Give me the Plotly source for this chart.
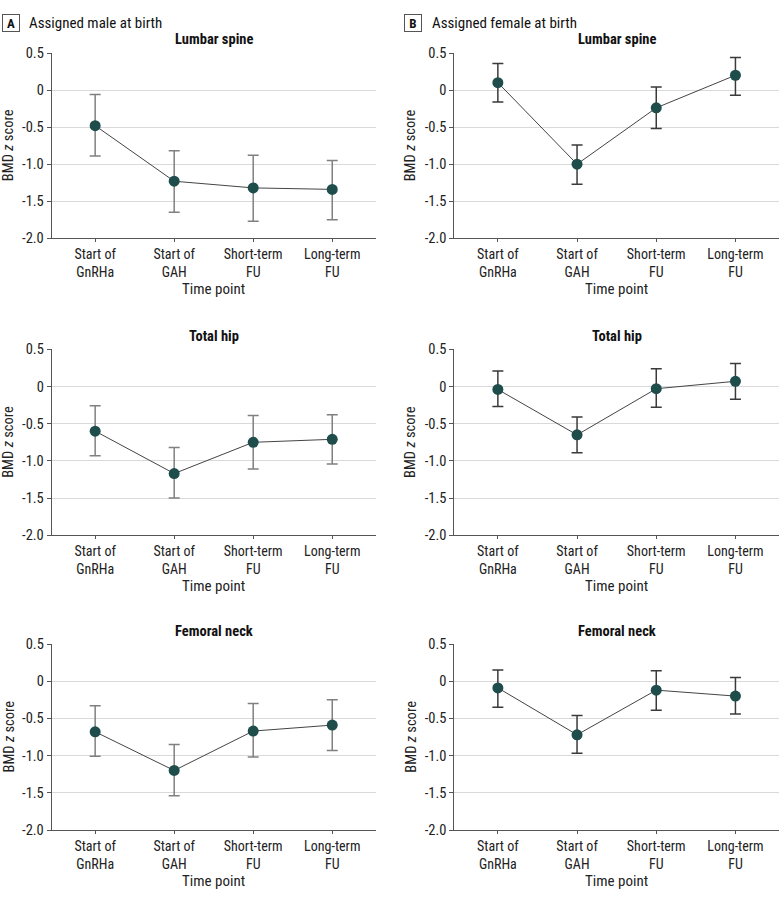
import plotly.graph_objects as go

categories = ["Start of<br>GnRHa", "Start of<br>GAH", "Short-term<br>FU", "Long-term<br>FU"]
sites = ["Lumbar spine", "Total hip", "Femoral neck"]

# Assigned male at birth (A)
amab_mean = {
    "Lumbar spine": [-0.48, -1.23, -1.32, -1.34],
    "Total hip": [-0.60, -1.17, -0.75, -0.71],
    "Femoral neck": [-0.68, -1.20, -0.67, -0.59],
}
amab_upper = {
    "Lumbar spine": [-0.06, -0.82, -0.88, -0.95],
    "Total hip": [-0.26, -0.82, -0.39, -0.38],
    "Femoral neck": [-0.33, -0.85, -0.30, -0.25],
}
amab_lower = {
    "Lumbar spine": [-0.89, -1.65, -1.77, -1.75],
    "Total hip": [-0.93, -1.50, -1.11, -1.04],
    "Femoral neck": [-1.01, -1.54, -1.02, -0.93],
}

# Assigned female at birth (B)
afab_mean = {
    "Lumbar spine": [0.10, -1.00, -0.24, 0.20],
    "Total hip": [-0.04, -0.65, -0.03, 0.07],
    "Femoral neck": [-0.09, -0.72, -0.12, -0.20],
}
afab_upper = {
    "Lumbar spine": [0.36, -0.74, 0.04, 0.44],
    "Total hip": [0.21, -0.41, 0.24, 0.31],
    "Femoral neck": [0.15, -0.46, 0.14, 0.05],
}
afab_lower = {
    "Lumbar spine": [-0.16, -1.27, -0.52, -0.07],
    "Total hip": [-0.27, -0.89, -0.28, -0.17],
    "Femoral neck": [-0.35, -0.97, -0.39, -0.44],
}

y_tickvals = [-2.0, -1.5, -1.0, -0.5, 0, 0.5]
y_ticktext = ["-2.0", "-1.5", "-1.0", "-0.5", "0", "0.5"]

W, H = 783, 900
FONT = "Roboto Condensed, Roboto, sans-serif"
MARKER = "#1e4d4b"

# pixel layout
xdom_px = [(51.7, 375.7), (454.3, 779.0)]
ydom_px = [(53, 238.3), (349.3, 535.3), (644, 830)]

fig = go.Figure()

groups = [
    (amab_mean, amab_upper, amab_lower, "#808080"),
    (afab_mean, afab_upper, afab_lower, "#3a3a3a"),
]

ax_i = 0
annotations = []
for r, site in enumerate(sites):
    for c, (mean, up, lo, ecol) in enumerate(groups):
        ax_i += 1
        xa = "x" if ax_i == 1 else f"x{ax_i}"
        ya = "y" if ax_i == 1 else f"y{ax_i}"
        m = mean[site]
        plus = [u - v for u, v in zip(up[site], m)]
        minus = [v - l for v, l in zip(m, lo[site])]
        fig.add_trace(go.Scatter(
            x=categories, y=m, mode="lines+markers",
            line=dict(color="#444444", width=1),
            marker=dict(color=MARKER, size=11),
            error_y=dict(type="data", symmetric=False, array=plus, arrayminus=minus,
                         color=ecol, thickness=1.5, width=5.5),
            xaxis=xa, yaxis=ya, showlegend=False, cliponaxis=False,
            hoverinfo="skip",
        ))
        x0, x1 = xdom_px[c]
        y0, y1 = ydom_px[r]
        xdom = [x0 / W, x1 / W]
        ydom = [1 - y1 / H, 1 - y0 / H]
        key_x = "xaxis" if ax_i == 1 else f"xaxis{ax_i}"
        key_y = "yaxis" if ax_i == 1 else f"yaxis{ax_i}"
        fig.layout[key_x] = dict(
            domain=xdom, anchor=ya, range=[-0.55, 3.55], type="category",
            showline=True, linecolor="#555555", linewidth=1,
            ticks="outside", ticklen=3, tickcolor="#555555",
            showgrid=False, zeroline=False, automargin=False,
            tickfont=dict(family=FONT, size=14, color="#222222"),
        )
        fig.layout[key_y] = dict(
            domain=ydom, anchor=xa, range=[-2.0, 0.5],
            tickvals=y_tickvals, ticktext=y_ticktext,
            showline=True, linecolor="#555555", linewidth=1,
            ticks="outside", ticklen=4, tickcolor="#555555",
            showgrid=True, gridcolor="#d9d9d9", gridwidth=1, zeroline=False,
            automargin=False,
            tickfont=dict(family=FONT, size=14.5, color="#222222"),
        )
        cx = (x0 + x1) / 2 / W
        # subplot title
        annotations.append(dict(
            text=site, x=cx, y=1 - (y0 - 13) / H, xref="paper", yref="paper",
            showarrow=False, font=dict(family=FONT, size=14.5, color="#111111", weight=700),
            xanchor="center", yanchor="middle",
        ))
        # x-axis title
        annotations.append(dict(
            text="Time point", x=cx, y=1 - (y1 + 51) / H, xref="paper", yref="paper",
            showarrow=False, font=dict(family=FONT, size=15, color="#222222"),
            xanchor="center", yanchor="middle",
        ))
        # y-axis title
        ytx = 8.5 if c == 0 else 410.7
        annotations.append(dict(
            text="BMD <i>z</i> score", x=ytx / W, y=1 - (y0 + y1) / 2 / H,
            xref="paper", yref="paper", textangle=-90,
            showarrow=False, font=dict(family=FONT, size=14.5, color="#222222"),
            xanchor="center", yanchor="middle",
        ))

# Panel headers
headers = [("A", "Assigned male at birth", 10.5, 26.5), ("B", "Assigned female at birth", 413, 429.5)]
for letter, text, bx, tx in headers:
    annotations.append(dict(
        text=f"<b>{letter}</b>", x=bx / W, y=1 - 23.5 / H, xref="paper", yref="paper",
        showarrow=False, font=dict(family=FONT, size=13, color="#111111"),
        xanchor="center", yanchor="middle",
        bordercolor="#555555", borderwidth=1, borderpad=1, width=14, height=14,
    ))
    annotations.append(dict(
        text=text, x=tx / W, y=1 - 23.5 / H, xref="paper", yref="paper",
        showarrow=False, font=dict(family=FONT, size=15, color="#111111"),
        xanchor="left", yanchor="middle",
    ))

fig.update_layout(
    width=W, height=H,
    margin=dict(l=0, r=0, t=0, b=0, autoexpand=False),
    paper_bgcolor="white", plot_bgcolor="white",
    annotations=annotations,
    font=dict(family=FONT),
    hovermode=False,
)

fig.write_html("out.html", config={"displayModeBar": False, "staticPlot": True},
               post_script="document.body.style.margin='0px';")
